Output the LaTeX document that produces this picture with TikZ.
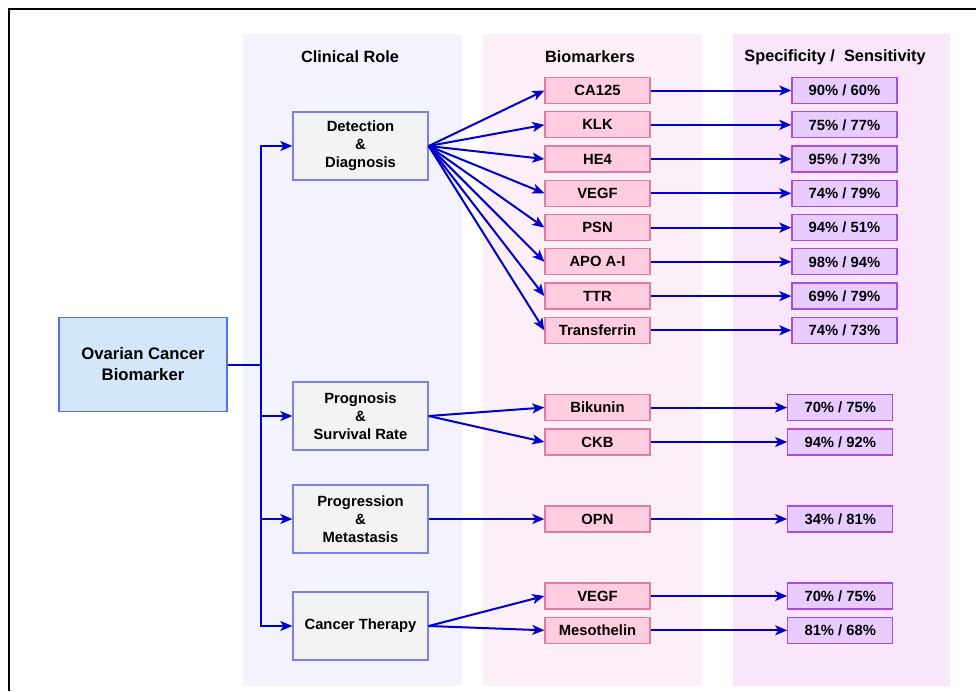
\documentclass[tikz,border=0pt]{standalone}
\usepackage{fontspec}
\setmainfont{Liberation Sans}
\usetikzlibrary{arrows.meta}
\definecolor{colA}{HTML}{F3F3FD}
\definecolor{colB}{HTML}{FDEFF8}
\definecolor{colC}{HTML}{F9E6FC}
\definecolor{rootfill}{HTML}{D4E6F9}
\definecolor{rootline}{HTML}{5B6FE0}
\definecolor{rolefill}{HTML}{F3F3F3}
\definecolor{roleline}{HTML}{7F7FE6}
\definecolor{bmfill}{HTML}{FFCCE0}
\definecolor{bmline}{HTML}{E07BA5}
\definecolor{valfill}{HTML}{E8CCFF}
\definecolor{valline}{HTML}{A64DE6}
\definecolor{arrblue}{HTML}{0000CC}
\tikzset{
  basebox/.style={draw, line width=1.3pt, inner sep=0pt, align=center, font=\bfseries\fontsize{14.8}{18}\selectfont},
  rootbox/.style={basebox, fill=rootfill, draw=rootline, minimum width=168pt, minimum height=94pt, font=\bfseries\fontsize{16.7}{21}\selectfont},
  rolebox/.style={basebox, fill=rolefill, draw=roleline, minimum width=135pt, minimum height=68pt},
  bmbox/.style={basebox, fill=bmfill, draw=bmline, minimum width=105pt, minimum height=26pt},
  valbox/.style={basebox, fill=valfill, draw=valline, minimum width=105pt, minimum height=26pt},
  header/.style={font=\bfseries\fontsize{16.3}{20}\selectfont, inner sep=0pt},
  conn/.style={draw=arrblue, line width=2pt, -{Stealth[length=12pt, width=10pt, inset=3pt]}},
}
\begin{document}
\begin{tikzpicture}[x=1pt, y=-1pt]
\useasboundingbox (0,0) rectangle (976,691);
\fill[white] (0,0) rectangle (976,691);
% column backgrounds
\fill[colA] (243,34) rectangle (462,686);
\fill[colB] (483,34) rectangle (702,686);
\fill[colC] (733,34) rectangle (950,686);
% frame
\draw[line width=2.5pt] (976,9) -- (9,9) -- (9,691);
% headers
\node[header] (h1) at (350,57) {Clinical Role};
\node[header] (h2) at (590,57) {Biomarkers};
\node[header] (h3) at (835,57) {Specificity /\ \ Sensitivity};
% root
\node[rootbox] (root) at (143,364.5) {Ovarian Cancer\\Biomarker};
% roles
\node[rolebox] (det) at (360.5,146) {Detection\\\&\\Diagnosis};
\node[rolebox] (prog) at (360.5,416) {Prognosis\\\&\\Survival Rate};
\node[rolebox] (progr) at (360.5,519) {Progression\\\&\\Metastasis};
\node[rolebox] (ther) at (360.5,626) {Cancer Therapy};
% biomarkers
\node[bmbox] (b1) at (597.5,90.5) {CA125};
\node[bmbox] (b2) at (597.5,124.8) {KLK};
\node[bmbox] (b3) at (597.5,159) {HE4};
\node[bmbox] (b4) at (597.5,193.3) {VEGF};
\node[bmbox] (b5) at (597.5,227.6) {PSN};
\node[bmbox] (b6) at (597.5,261.8) {APO A-I};
\node[bmbox] (b7) at (597.5,296.1) {TTR};
\node[bmbox] (b8) at (597.5,330.3) {Transferrin};
\node[bmbox] (b9) at (597.5,407.5) {Bikunin};
\node[bmbox] (b10) at (597.5,442) {CKB};
\node[bmbox] (b11) at (597.5,519) {OPN};
\node[bmbox] (b12) at (597.5,596) {VEGF};
\node[bmbox] (b13) at (597.5,630.3) {Mesothelin};
% values
\node[valbox] (v1) at (844.5,90.5) {90\% / 60\%};
\node[valbox] (v2) at (844.5,124.8) {75\% / 77\%};
\node[valbox] (v3) at (844.5,159) {95\% / 73\%};
\node[valbox] (v4) at (844.5,193.3) {74\% / 79\%};
\node[valbox] (v5) at (844.5,227.6) {94\% / 51\%};
\node[valbox] (v6) at (844.5,261.8) {98\% / 94\%};
\node[valbox] (v7) at (844.5,296.1) {69\% / 79\%};
\node[valbox] (v8) at (844.5,330.3) {74\% / 73\%};
\node[valbox] (v9) at (840.3,407.5) {70\% / 75\%};
\node[valbox] (v10) at (840.3,442) {94\% / 92\%};
\node[valbox] (v11) at (840.3,519) {34\% / 81\%};
\node[valbox] (v12) at (840.3,596) {70\% / 75\%};
\node[valbox] (v13) at (840.3,630.3) {81\% / 68\%};
% root to roles
\foreach \r in {det,prog,progr,ther}{
  \draw[conn] (root.east) -- ++(33,0) |- (\r.west);
}
% roles to biomarkers
\foreach \b in {b1,b2,b3,b4,b5,b6,b7,b8}{
  \draw[conn] (det.east) -- (\b.west);
}
\draw[conn] (prog.east) -- (b9.west);
\draw[conn] (prog.east) -- (b10.west);
\draw[conn] (progr.east) -- (b11.west);
\draw[conn] (ther.east) -- (b12.west);
\draw[conn] (ther.east) -- (b13.west);
% biomarkers to values
\foreach \i in {1,...,13}{
  \draw[conn] (b\i.east) -- (v\i.west);
}
\end{tikzpicture}
\end{document}
